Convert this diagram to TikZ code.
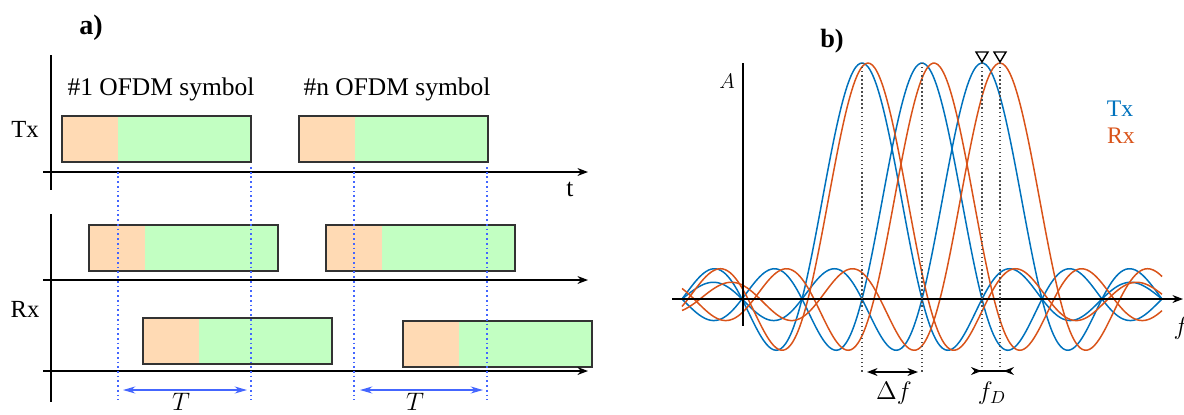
\documentclass[tikz,border=0pt]{standalone}
\usepackage{fontspec}
\setmainfont{Liberation Serif}
\usetikzlibrary{arrows.meta}

\definecolor{cpfill}{HTML}{FFDAB4}
\definecolor{datafill}{HTML}{C2FFC2}
\definecolor{boxedge}{HTML}{333333}
\definecolor{guideblue}{HTML}{4466FF}
\definecolor{txblue}{HTML}{0072BD}
\definecolor{rxorange}{HTML}{D95319}

\tikzset{
    declare function={snc(\u)=sin(180*\u)/(pi*\u);},
    axisline/.style={line width=0.7pt, -{Stealth[length=6pt,width=4.5pt]}},
    guide/.style={guideblue, line width=1pt, dash pattern=on 1pt off 1.7pt},
    peakguide/.style={black!70, line width=0.7pt, dash pattern=on 0.8pt off 1.5pt},
    txt/.style={font=\fontsize{14.5}{17}\selectfont, inner sep=0pt},
}

\begin{document}
\begin{tikzpicture}[x=0.02cm, y=-0.02cm]
    \useasboundingbox (0,0) rectangle (1184,414);

    % a) Zeitachsen
    \node[txt, font=\fontsize{16}{18}\bfseries] (lbla) at (91,28) {a)};
    \node[txt] (sym1) at (161,89) {\#1 OFDM symbol};
    \node[txt] (symn) at (397,89) {\#n OFDM symbol};
    \node[txt, font=\fontsize{14}{17}\selectfont] (txlbl) at (25,129) {Tx};
    \node[txt, font=\fontsize{14}{17}\selectfont] (rxlbl) at (25,309) {Rx};
    \node[txt] (tlbl) at (570,189) {t};

    % Symbole: CP (orange) + Daten (gruen)
    \foreach \bx/\by in {62/116, 299/116, 89/225, 326/225, 143/318, 403/321} {
        \fill[cpfill] (\bx,\by) rectangle ++(56,46);
        \fill[datafill] (\bx+56,\by) rectangle ++(133,46);
        \draw[boxedge, line width=1.5pt] (\bx,\by) rectangle ++(189,46);
    }

    \draw[line width=0.7pt] (51,55) -- (51,190);
    \draw[line width=0.7pt] (51,214) -- (51,402);
    \foreach \ay in {172,280,371} {
        \draw[axisline] (43,\ay) -- (588,\ay);
    }

    \foreach \gx in {118,251,354,487} {
        \draw[guide] (\gx,167) -- (\gx,400);
    }

    % Symboldauer
    \coordinate (t1l) at (123,390);
    \coordinate (t1r) at (247,390);
    \coordinate (t2l) at (360,390);
    \coordinate (t2r) at (483,390);
    \draw[guideblue, line width=0.7pt, {Stealth[length=7pt,width=4pt]}-{Stealth[length=7pt,width=4pt]}] (t1l) -- (t1r);
    \draw[guideblue, line width=0.7pt, {Stealth[length=7pt,width=4pt]}-{Stealth[length=7pt,width=4pt]}] (t2l) -- (t2r);
    \node[txt, font=\fontsize{13.5}{16}\selectfont, anchor=south] (per1) at (181,410.5) {$T$};
    \node[txt, font=\fontsize{13.5}{16}\selectfont, anchor=south] (per2) at (415,410.5) {$T$};

    % b) Spektrum
    \node[txt, font=\fontsize{15}{18}\bfseries] (lblb) at (832,41) {b)};
    \node[txt, font=\fontsize{12.5}{15}\selectfont] (amp) at (727,81) {$A$};
    \node[txt, font=\fontsize{13.5}{16}\selectfont, text=txblue] (txkey) at (1120,109) {Tx};
    \node[txt, font=\fontsize{13.5}{16}\selectfont, text=rxorange] (rxkey) at (1121,136) {Rx};

    \foreach \p in {862,922,982} {
        \draw[txblue, line width=0.85pt] plot[domain=682:1162, samples=200, smooth]
            (\x, {299-236*snc((\x-\p)/60)});
    }
    \foreach \p in {868,934,1000} {
        \draw[rxorange, line width=0.85pt] plot[domain=682:1162, samples=200, smooth]
            (\x, {299-236*snc((\x-\p)/60)});
    }

    \draw[line width=0.7pt] (743,63) -- (743,326);
    \draw[axisline] (672,299) -- (1183,299);
    \node[txt] (flbl) at (1181,328) {$f$};

    \foreach \gx/\gy in {862/372, 922/372, 982/367, 1000/367} {
        \draw[peakguide] (\gx,63) -- (\gx,\gy);
    }
    \foreach \gx in {982,1000} {
        \draw[line width=0.8pt] (\gx-6,52) -- (\gx+6,52) -- (\gx,62) -- cycle;
    }

    \coordinate (dfl) at (867,372);
    \coordinate (dfr) at (918,372);
    \coordinate (fdl) at (971,371);
    \coordinate (fdr) at (1014,371);
    \draw[line width=0.8pt, {Stealth[length=6pt,width=4.5pt]}-{Stealth[length=6pt,width=4.5pt]}] (dfl) -- (dfr);
    \draw[line width=0.8pt, {Stealth[length=6pt,width=4.5pt,reversed]}-{Stealth[length=6pt,width=4.5pt,reversed]}] (fdl) -- (fdr);
    \node[txt] (dflbl) at (894,393) {$\Delta f$};
    \node[txt] (fdlbl) at (992,393) {$f_D$};
\end{tikzpicture}
\end{document}
